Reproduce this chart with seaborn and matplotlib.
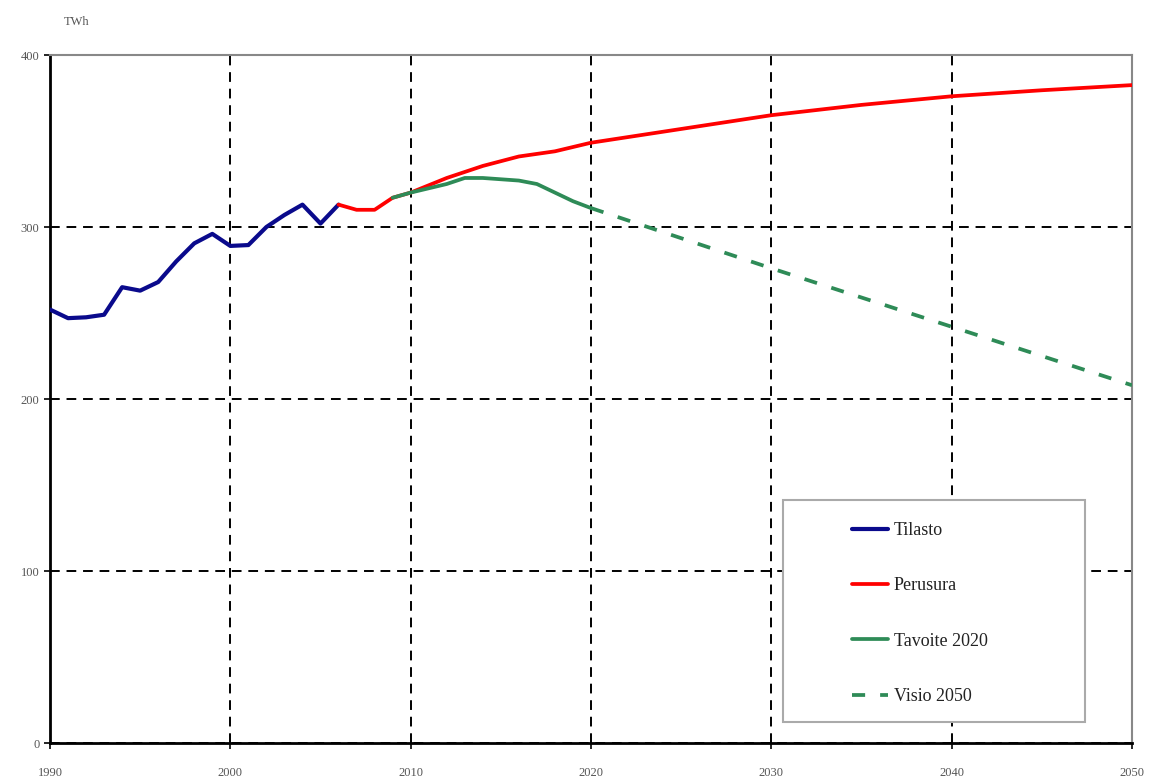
import numpy as np
import pandas as pd
import matplotlib
matplotlib.use("Agg")
import matplotlib.pyplot as plt
from matplotlib.patches import Rectangle
import seaborn as sns

# Values (TWh)
tilasto_years = [1990, 1991, 1992, 1993, 1994, 1995, 1996, 1997, 1998, 1999,
                 2000, 2001, 2002, 2003, 2004, 2005, 2006]
tilasto_vals = [252, 247, 247.5, 249, 265, 263, 268, 280, 290.5, 296,
                289, 289.5, 300, 307, 313, 302, 313]

perusura_years = [2006, 2007, 2008, 2009, 2010, 2012, 2014, 2016, 2018, 2020,
                  2025, 2030, 2035, 2040, 2045, 2050]
perusura_vals = [313, 310, 310, 317, 320, 328.5, 335.5, 341, 344, 349,
                 357, 365, 371, 376, 379.5, 382.5]

tavoite_years = [2009, 2010, 2012, 2013, 2014, 2016, 2017, 2018, 2019, 2020]
tavoite_vals = [317, 320, 325, 328.5, 328.5, 327, 325, 320, 315, 311]

visio_years = [2020, 2030, 2040, 2050]
visio_vals = [311, 276, 242, 208]

sns.set_style("white")
plt.rcParams["font.family"] = ["Liberation Serif", "DejaVu Serif"]

fig = plt.figure(figsize=(11.52, 7.79), dpi=100)
ax = fig.add_axes([50 / 1152, 36 / 779, 1082 / 1152, 688 / 779])

series = [
    ("Tilasto", tilasto_years, tilasto_vals, "#0a0a8c", "-", 3.0),
    ("Perusura", perusura_years, perusura_vals, "#ff0000", "-", 2.7),
    ("Tavoite 2020", tavoite_years, tavoite_vals, "#2e8b57", "-", 2.7),
    ("Visio 2050", visio_years, visio_vals, "#2e8b57", (0, (3.5, 4)), 2.7),
]
for label, yrs, vals, color, ls, lw in series:
    df = pd.DataFrame({"year": yrs, "twh": vals})
    sns.lineplot(data=df, x="year", y="twh", ax=ax, color=color,
                 linestyle=ls, linewidth=lw, label=label, zorder=3)

ax.set_xlim(1990, 2050)
ax.set_ylim(0, 400)
ax.set_xticks(range(1990, 2051, 10))
ax.set_yticks(range(0, 401, 100))
ax.set_xlabel("")
ax.set_ylabel("")
ax.grid(True, color="black", linestyle=(0, (5, 3.5)), linewidth=1.4, zorder=1)
ax.tick_params(axis="both", direction="out", length=4, width=1.2,
               color="black", labelsize=9, labelcolor="#555555", bottom=True, left=True)
ax.tick_params(axis="x", pad=13)

for side in ["left", "bottom"]:
    ax.spines[side].set_color("black")
    ax.spines[side].set_linewidth(2)
for side in ["top", "right"]:
    ax.spines[side].set_color("#888888")
    ax.spines[side].set_linewidth(1.5)

fig.text(64 / 1152, 1 - 22 / 779, "TWh", fontsize=9, color="#555555",
         va="center", ha="left")

# legend frame drawn separately so the entries can sit well inside it
frame = Rectangle((783 / 1152, 1 - 722 / 779), (1085 - 783) / 1152, (722 - 500) / 779,
                  transform=fig.transFigure, facecolor="white", edgecolor="#aaaaaa",
                  linewidth=1.5, zorder=4, clip_on=False)
ax.add_patch(frame)

leg = ax.legend(loc="upper left", bbox_to_anchor=(852 / 1152, 1 - 522 / 779),
                bbox_transform=fig.transFigure, frameon=False, fontsize=13,
                handlelength=2.0, handletextpad=0.3, labelspacing=2.12,
                borderpad=0, borderaxespad=0)
leg.set_zorder(5)
for t in leg.get_texts():
    t.set_color("#222222")

fig.savefig("out.png", dpi=100)
